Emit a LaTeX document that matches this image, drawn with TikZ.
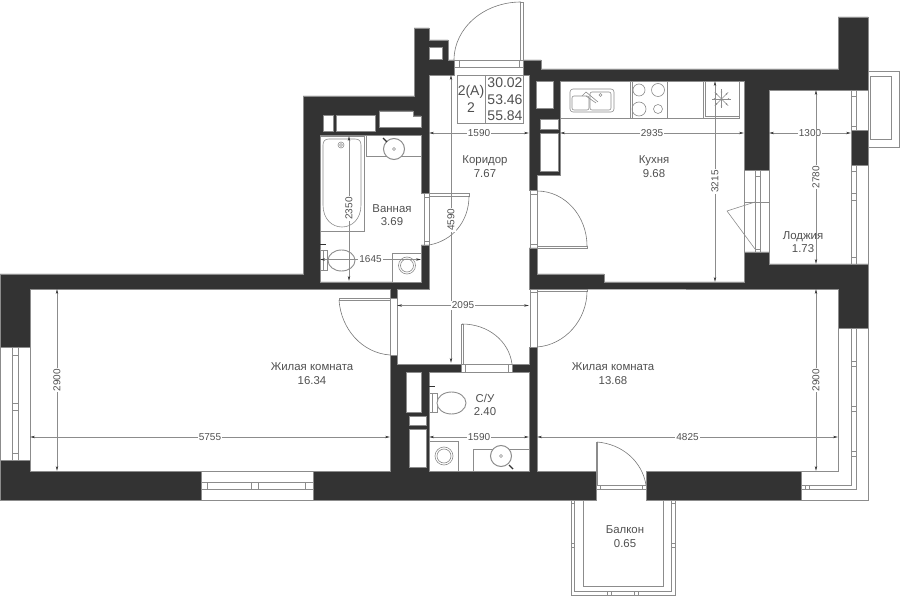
\documentclass[tikz,border=0pt]{standalone}
\usepackage{fontspec}
\setmainfont{Liberation Sans}
\usepackage{xcolor}
\definecolor{walldark}{HTML}{333333}
\definecolor{planline}{HTML}{8C8C8C}
\definecolor{plantext}{HTML}{505050}
\usetikzlibrary{arrows.meta}

\begin{document}
\begin{tikzpicture}[
        x=1pt, y=-1pt,
        wall/.style={fill=walldark, draw=planline, line width=0.4pt},
        hole/.style={fill=white, draw=planline, line width=0.5pt},
        plan/.style={draw=planline, line width=0.6pt},
        leaf/.style={draw=planline!85!black, line width=0.6pt},
        dimline/.style={draw=planline, line width=0.6pt, {Stealth[length=5pt,width=2.4pt,color=walldark]}-{Stealth[length=5pt,width=2.4pt,color=walldark]}},
        dimtext/.style={fill=white, text=plantext, font=\fontsize{10}{10}\selectfont, inner sep=1pt},
        roomtext/.style={text=plantext, font=\fontsize{11.4}{13.4}\selectfont, align=center, inner sep=0pt},
        infotext/.style={text=plantext, font=\fontsize{14}{16}\selectfont, inner sep=0pt}
    ]
    \useasboundingbox (0,0) rectangle (900,596);

    % walls
    \path[wall] (0,274) -- (303,274) -- (303,96) -- (414,96) -- (414,28) -- (429,28) -- (429,40) -- (448,40) -- (448,60) -- (454,60) -- (454,75)
        -- (429,75) -- (429,193) -- (421,193) -- (421,135) -- (320,135) -- (320,282) -- (421,282) -- (421,245) -- (429,245) -- (429,289)
        -- (397,289) -- (397,298) -- (390,298) -- (390,289) -- (30,289) -- (30,347) -- (0,347) -- cycle;
    \path[wall] (0,460) -- (30,460) -- (30,471) -- (390,471) -- (390,355) -- (397,355) -- (397,364) -- (461,364) -- (461,372)
        -- (429,372) -- (429,471) -- (529,471) -- (529,372) -- (512,372) -- (512,364) -- (529,364) -- (529,347) -- (537,347) -- (537,471)
        -- (596,471) -- (596,500) -- (313,500) -- (313,471) -- (201,471) -- (201,500) -- (0,500) -- cycle;
    \path[wall] (646,471) rectangle (801,500);
    \path[wall] (523,60) -- (541,60) -- (541,69) -- (838,69) -- (838,17) -- (868,17) -- (868,90) -- (769,90) -- (769,170) -- (744,170)
        -- (744,81) -- (560,81) -- (560,175) -- (537,175) -- (537,190) -- (529,190) -- (529,75) -- (523,75) -- cycle;
    \path[wall] (529,248) -- (537,248) -- (537,274) -- (604,274) -- (604,282) -- (744,282) -- (744,252) -- (769,252) -- (769,264) -- (868,264)
        -- (868,328) -- (838,328) -- (838,289) -- (537,289) -- (529,289) -- cycle;
    \path[wall] (851,130) rectangle (868,165);

    % shafts inside the walls
    \path[hole] (429,47) rectangle (442,59);
    \path[hole] (323,115) rectangle (333,131);
    \path[hole] (336,115) rectangle (375,131);
    \path[hole] (379,111) -- (413,111) -- (413,116) -- (421,116) -- (421,127) -- (379,127) -- cycle;
    \path[hole] (536,81) rectangle (553,108);
    \path[hole] (540,119) rectangle (558,129);
    \path[hole] (540,133) rectangle (558,171);
    \path[hole] (406,372) rectangle (421,412);
    \path[hole] (409,416) rectangle (426,425);
    \path[hole] (409,429) rectangle (426,467);

    % windows
    \draw[plan] (0,347) rectangle (30,460) (12,347) -- (12,460) (18,347) -- (18,460);
    \foreach \ty in {355,403,410,453} \draw[plan] (12,\ty) -- (18,\ty);
    \draw[plan] (201,471) rectangle (313,500) (201,482) -- (313,482) (201,489) -- (313,489);
    \foreach \tx in {207,251,258,305} \draw[plan] (\tx,482) -- (\tx,489);
    \draw[plan] (838,328) -- (838,471) -- (801,471) (868,328) -- (868,500) -- (801,500);
    \draw[plan] (851,328) -- (851,485) -- (801,485) (856,328) -- (856,489) -- (801,489);
    \foreach \ty in {361,366,406,411,451,456} \draw[plan] (851,\ty) -- (856,\ty);
    \foreach \tx in {805,809} \draw[plan] (\tx,485) -- (\tx,489);
    \draw[plan] (868,90) -- (868,130) (868,165) -- (868,264);
    \draw[plan] (851,90) -- (851,130) (856,90) -- (856,130) (851,165) -- (851,264) (856,165) -- (856,264);
    \foreach \ty in {96,126,171,193,200,257} \draw[plan] (851,\ty) -- (856,\ty);
    \draw[plan] (868,71) rectangle (899,147) (870,76) rectangle (891,139);

    % kitchen window and its open leaf
    \draw[plan] (744,170) rectangle (769,252) (744,202) -- (769,202) (755,170) -- (755,252) (760,170) -- (760,252);
    \draw[plan] (755,176) -- (760,176) (755,249) -- (760,249);
    \draw[plan] (755,202) -- (727,211) -- (755,249);

    % doors
    \draw[plan] (454,60) rectangle (523,67) (459,60) -- (459,67) (519,60) -- (519,67);
    \draw[plan] (520,2) rectangle (523,60);
    \draw[leaf] (521,2) .. controls (484,2) and (454,28) .. (454,60);
    \draw[plan] (424,193) rectangle (429,245) (424,197) -- (429,197) (424,241) -- (429,241);
    \draw[plan] (429,193) rectangle (469,196);
    \draw[leaf] (469,196) .. controls (469,222) and (452,241) .. (429,245);
    \draw[plan] (530,190) rectangle (537,248) (530,194) -- (537,194) (530,244) -- (537,244);
    \draw[plan] (537,246) rectangle (587,248);
    \draw[leaf] (537,191) .. controls (565,191) and (587,216) .. (587,246);
    \draw[plan] (530,289) rectangle (537,347) (530,292) -- (537,292);
    \draw[plan] (537,289) rectangle (587,291);
    \draw[leaf] (587,291) .. controls (587,320) and (565,345) .. (537,347);
    \draw[plan] (390,298) rectangle (397,355);
    \draw[plan] (339,298) rectangle (390,300);
    \draw[leaf] (339,300) .. controls (341,329) and (362,353) .. (390,355);
    \draw[plan] (461,364) rectangle (512,372) (465,364) -- (465,372) (508,364) -- (508,372);
    \draw[plan] (461,324) rectangle (463,364);
    \draw[leaf] (462,324) .. controls (488,324) and (509,341) .. (512,364);
    \draw[plan] (596,485) rectangle (646,489) (600,485) -- (600,489) (642,485) -- (642,489);
    \draw[plan] (596,489) -- (596,500) (646,489) -- (646,500);
    \draw[plan] (596,442) rectangle (597,485);
    \draw[leaf] (597,442) .. controls (622,444) and (642,461) .. (646,485);

    % balcony
    \draw[plan] (571,500) -- (571,595) -- (675,595) -- (675,500) (574,500) -- (574,591) -- (671,591) -- (671,500);
    \draw[plan] (583,500) -- (583,586) -- (663,586) -- (663,500);
    \foreach \tx in {607,611,634,638} \draw[plan] (\tx,591) -- (\tx,595);
    \foreach \ty in {503,543,547} {
        \draw[plan] (571,\ty) -- (574,\ty);
        \draw[plan] (671,\ty) -- (675,\ty);
    }

    % bathroom
    \draw[plan] (320,136) rectangle (364,231);
    \draw[plan] (323,205) -- (323,145) .. controls (323,141) and (325,139) .. (329,139) -- (355,139) .. controls (359,139) and (361,141) .. (361,145)
        -- (361,205) .. controls (361,219) and (352,227) .. (342,227) .. controls (332,227) and (323,219) .. (323,205);
    \draw[plan] (341,145) circle (3) (341,145) circle (1.5);
    \draw[plan] (366,135) rectangle (421,156);
    \draw[fill=white, draw=planline, line width=1pt] (394,149) circle (10.5);
    \draw[plan] (394,149) circle (1.5);
    \draw[walldark, line width=1.4pt] (383,138) -- (387,142);
    \draw[plan, fill=white] (320,250) rectangle (327,270) (323,250) -- (323,270);
    \draw[walldark, line width=0.6pt] (320,244) -- (326,244);
    \draw[plan, fill=white, line width=0.9pt] (341.5,260.5) ellipse (13.5 and 10.5);
    \draw[plan, fill=white] (392,253) rectangle (421,282);
    \draw[plan] (407,265.5) circle (8.5) (407,265.5) circle (6.5);

    % toilet room
    \draw[plan, fill=white] (429,393) rectangle (437,412) (432,393) -- (432,412);
    \draw[walldark, line width=0.6pt] (429,386) -- (435,386);
    \draw[plan, fill=white, line width=0.9pt] (451.5,403) ellipse (14.5 and 11);
    \draw[plan] (429,441) rectangle (458,471);
    \draw[plan] (444,456) circle (9) (444,456) circle (7);
    \draw[plan] (473,449) rectangle (529,471);
    \draw[fill=white, draw=planline, line width=1pt] (501,456) circle (10.5);
    \draw[plan] (501,456) circle (1.5);
    \draw[walldark, line width=1.4pt] (509,465) -- (513,469);

    % kitchen
    \draw[plan] (560,118) -- (739,118) -- (739,81);
    \foreach \tx in {630,632,667,703} \draw[plan] (\tx,81) -- (\tx,118);
    \draw[plan, rounded corners=3pt] (570,89) rectangle (614,112);
    \draw[plan, rounded corners=2pt] (572,96) -- (572,110) -- (589,110) -- (589,96) -- cycle;
    \draw[plan, rounded corners=2pt] (590,92) rectangle (611,110);
    \draw[plan] (582,96) -- (586,92) -- (598,102) (586,96) -- (596,103);
    \draw[plan] (600.5,95) circle (1.5);
    \draw[plan] (639,90) circle (6) (658,90) circle (6.5) (639,109) circle (7) (658,109) circle (4.5);
    \draw[plan, line width=1pt] (705,82) rectangle (739,117);
    \foreach \ang in {0,45,...,315} {
        \draw[plan] (721.5,99) -- ++(\ang:9.5);
        \fill[planline] (721.5,99) ++(\ang:7) circle (0.9);
    }

    % dimensions
    \draw[dimline] (429,133) -- node[dimtext] {1590} (529,133);
    \draw[dimline] (560,133) -- node[dimtext] {2935} (744,133);
    \draw[dimline] (769,133) -- node[dimtext] {1300} (851,133);
    \draw[dimline] (715,81) -- node[dimtext, rotate=90, pos=0.5] {3215} (715,282);
    \draw[dimline] (816,90) -- node[dimtext, rotate=90, pos=0.5] {2780} (816,264);
    \draw[dimline] (349,136) -- node[dimtext, rotate=90, pos=0.5] {2350} (349,281);
    \draw[dimline] (451,75) -- node[dimtext, rotate=90, pos=0.503] {4590} (451,363);
    \draw[dimline] (320,259.5) -- node[dimtext] {1645} (421,259.5);
    \draw[dimline] (397,305.5) -- node[dimtext] {2095} (529,305.5);
    \draw[dimline] (57,289) -- node[dimtext, rotate=90] {2900} (57,471);
    \draw[dimline] (30,437) -- node[dimtext] {5755} (390,437);
    \draw[dimline] (816,289) -- node[dimtext, rotate=90] {2900} (816,471);
    \draw[dimline] (537,437) -- node[dimtext] {4825} (838,437);
    \draw[dimline] (429,437) -- node[dimtext] {1590} (529,437);

    % room labels
    \node[roomtext] (hall) at (485,166.5) {Коридор\\7.67};
    \node[roomtext] (kitchen) at (654,166.5) {Кухня\\9.68};
    \node[roomtext] (bath) at (392,215) {Ванная\\3.69};
    \node[roomtext] (loggia) at (803,242) {Лоджия\\1.73};
    \node[roomtext] (livingleft) at (312,373.5) {Жилая комната\\16.34};
    \node[roomtext] (livingright) at (613,373.5) {Жилая комната\\13.68};
    \node[roomtext] (toilet) at (485,405) {С/У\\2.40};
    \node[roomtext] (balcony) at (625,536.5) {Балкон\\0.65};

    % info table
    \draw[plan] (457,75) rectangle (523,123) (485,75) -- (485,123);
    \node[infotext] (flattype) at (471,92) {2(A)};
    \node[infotext] (flatrooms) at (471,108) {2};
    \node[infotext] (arealiving) at (505,83) {30.02};
    \node[infotext] (areatotal) at (505,100) {53.46};
    \node[infotext] (areafull) at (505,116) {55.84};
\end{tikzpicture}
\end{document}
